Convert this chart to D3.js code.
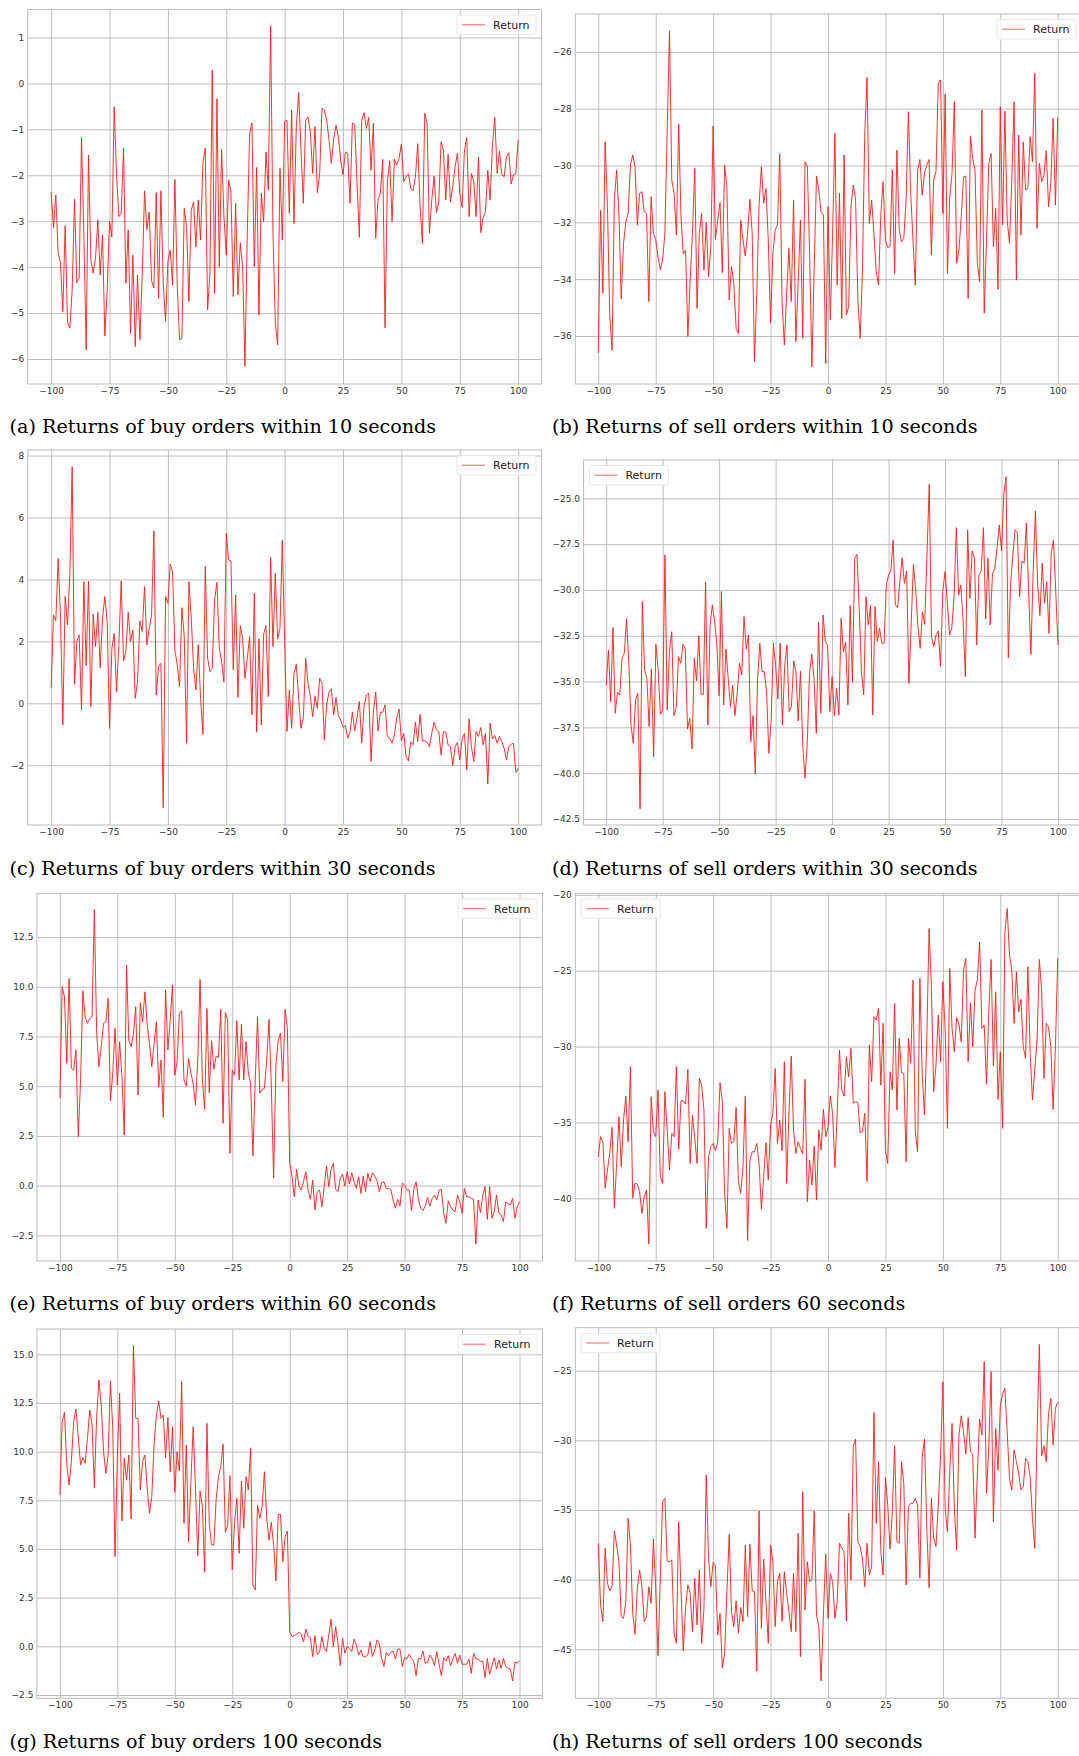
<!DOCTYPE html>
<html>
<head>
<meta charset="utf-8">
<script src="https://cdn.jsdelivr.net/npm/d3@7"></script>
<style>
html, body { margin: 0; padding: 0; background: #fff; }
svg { display: block; }
</style>
</head>
<body>
<svg id="fig" width="1079" height="1756"></svg>
<script>
// lag (seconds) on the x axis of every panel, and its ticks
var lags = d3.range(-100, 101);
var xTicks = [-100, -75, -50, -25, 0, 25, 50, 75, 100];

// returns, one value per lag from -100 to 100
var buy10 = [
-2.36,-3.14,-2.43,-3.70,-3.90,-4.97,-3.10,-5.20,-5.33,-4.50,
-2.52,-4.34,-4.24,-1.18,-3.26,-5.80,-1.56,-3.84,-4.13,-3.80,
-2.97,-4.17,-3.30,-5.50,-4.50,-3.00,-3.34,-0.51,-1.96,-2.90,
-2.83,-1.41,-4.35,-3.19,-5.44,-3.74,-5.73,-4.17,-5.58,-4.20,
-2.34,-3.19,-2.80,-4.30,-4.45,-2.38,-4.68,-2.34,-4.35,-5.18,
-3.88,-3.63,-4.39,-2.09,-4.39,-5.58,-5.55,-2.72,-3.12,-4.75,
-2.76,-2.58,-3.56,-2.54,-3.41,-1.72,-1.41,-4.93,-4.13,0.29,
-4.57,-0.33,-3.99,-1.44,-2.90,-3.74,-2.10,-2.36,-4.64,-2.61,
-4.60,-3.47,-3.99,-6.16,-3.26,-1.09,-0.86,-3.99,-1.83,-5.04,
-2.39,-3.01,-1.49,-2.32,1.25,-3.26,-5.22,-5.69,-1.85,-3.41,
-0.83,-0.80,-2.83,-0.58,-3.05,-0.94,-0.20,-1.45,-2.61,-0.80,
-0.73,-1.05,-1.96,-0.94,-2.38,-1.96,-0.54,-0.58,-0.80,-1.23,
-1.74,-1.20,-0.91,-1.16,-1.67,-1.99,-1.49,-1.52,-2.61,-0.86,
-0.89,-2.18,-3.35,-0.80,-0.64,-0.98,-0.74,-1.89,-0.87,-3.37,
-2.52,-2.39,-1.65,-5.32,-2.14,-1.68,-3.01,-1.65,-1.78,-1.63,
-1.32,-2.14,-2.03,-1.97,-2.28,-2.34,-2.03,-1.31,-2.68,-3.48,
-0.65,-0.87,-3.26,-2.54,-2.02,-2.81,-2.58,-1.27,-1.45,-2.54,
-1.54,-2.58,-2.25,-1.81,-1.52,-2.39,-2.70,-1.45,-1.18,-2.90,
-1.96,-2.14,-2.90,-1.60,-3.25,-2.93,-2.79,-1.89,-2.54,-1.34,
-0.74,-1.96,-1.47,-1.99,-2.03,-1.60,-1.51,-2.19,-1.99,-1.97,
-1.23];

var sell10 = [
-36.6,-31.57,-34.5,-29.17,-31.45,-35.3,-36.5,-31.2,-30.16,-31.7,
-34.7,-32.74,-31.98,-31.69,-29.99,-29.63,-30.04,-32.1,-30.98,-30.92,
-31.63,-31.69,-34.79,-31.1,-32.39,-32.62,-33.2,-33.66,-33.33,-32.39,
-28.75,-25.26,-30.51,-30.98,-32.45,-28.54,-31.8,-33.12,-32.98,-36.02,
-34.03,-32.39,-30.1,-35.03,-32.39,-31.69,-33.68,-32.01,-33.91,-32.86,
-28.61,-32.6,-31.92,-31.31,-33.77,-29.99,-30.75,-34.73,-33.56,-34.15,
-35.73,-35.91,-31.92,-32.62,-33.19,-32.39,-31.19,-32.39,-36.9,-34.5,
-31.39,-30.04,-31.33,-30.81,-32.62,-35.55,-33.09,-32.27,-32.1,-29.6,
-34.79,-36.32,-34.5,-32.92,-34.79,-31.22,-36.2,-34.15,-31.92,-36.08,
-29.87,-30.02,-33.09,-37.08,-33.56,-30.37,-30.87,-31.63,-31.74,-36.96,
-31.45,-35.44,-32.39,-28.87,-34.21,-30.98,-35.38,-29.63,-35.26,-34.97,
-31.45,-30.69,-31.16,-34.73,-36.08,-33.68,-28.87,-26.9,-32.04,-31.22,
-32.39,-33.74,-34.21,-31.69,-30.57,-32.65,-32.88,-32.86,-30.16,-33.8,
-29.46,-32.27,-32.68,-32.56,-31.22,-28.11,-30.98,-32.62,-34.21,-30.16,
-29.79,-31.04,-30.26,-29.99,-29.79,-33.15,-30.51,-30.22,-27.11,-26.99,
-31.69,-27.49,-33.8,-31.1,-30.28,-27.76,-33.44,-32.98,-31.8,-30.4,
-30.37,-34.68,-28.97,-29.75,-30.16,-33.44,-34.09,-28.05,-35.2,-32.62,
-29.93,-29.58,-32.86,-31.51,-34.36,-27.93,-32.1,-28.09,-31.92,-32.74,
-30.51,-27.76,-34.03,-28.93,-32.45,-29.17,-30.87,-30.81,-28.99,-29.87,
-26.76,-32.21,-29.93,-30.57,-30.34,-29.48,-31.45,-30.63,-28.34,-31.39,
-28.31];

var buy30 = [
0.51,2.85,2.66,4.68,2.85,-0.7,3.45,2.53,4.15,7.64,
0.62,1.99,2.21,-0.21,3.93,1.22,3.95,-0.11,2.88,1.83,
2.94,1.15,2.75,3.45,2.64,-0.81,1.77,2.26,0.38,1.89,
3.95,1.37,1.67,2.94,1.99,2.37,0.16,0.7,2.66,2.32,
3.77,1.89,2.42,2.85,5.57,0.27,1.19,1.29,-3.37,3.45,
3.23,4.5,4.25,1.72,1.24,0.54,3.09,2.16,-1.29,3.93,
2.75,1.13,0.43,1.89,0.16,-1.0,4.42,1.46,1.02,1.13,
3.34,3.91,1.78,1.35,0.68,5.49,4.63,4.6,1.08,3.5,
0.19,2.51,2.1,0.81,1.46,2.16,-0.37,3.55,-0.93,2.08,
-0.7,2.23,2.51,0.22,4.71,1.83,4.2,2.07,2.42,5.26,
1.99,-0.91,0.43,-0.81,0.97,1.26,0.16,-0.81,-0.48,1.46,
0.65,0.22,-0.43,0.22,-0.16,0.81,0.65,-1.18,-0.05,0.36,
0.47,-0.37,0.19,-0.4,-0.54,-0.78,-0.72,-1.13,-0.93,-0.29,
-0.89,-0.46,0.06,-1.29,-0.11,0.27,0.33,-1.88,-0.25,0.36,
-0.89,-0.29,-0.29,-0.05,-1.07,-1.13,-1.29,-1.02,-0.48,-0.18,
-1.21,-0.97,-1.72,-1.86,-1.24,-1.34,-0.61,-1.24,-0.35,-1.21,
-1.21,-1.26,-1.4,-0.97,-0.61,-0.86,-0.91,-1.67,-0.91,-0.93,
-1.34,-1.4,-2.01,-1.4,-1.26,-1.83,-1.15,-0.97,-2.15,-0.5,
-1.4,-1.88,-0.91,-1.07,-0.78,-1.34,-0.97,-2.61,-0.64,-1.15,
-1.04,-1.29,-1.07,-1.24,-1.45,-1.83,-1.4,-1.32,-1.29,-2.23,
-2.1];

var sell30 = [
-35.22,-33.28,-36.1,-32.06,-36.73,-35.58,-35.73,-33.73,-33.46,-31.59,
-33.91,-37.41,-38.37,-36.01,-35.64,-41.95,-30.64,-34.37,-34.82,-37.46,
-34.31,-39.1,-32.97,-34.37,-36.79,-36.55,-28.09,-36.55,-33.37,-32.28,
-36.86,-36.42,-33.64,-34.0,-32.97,-33.19,-37.59,-37.01,-38.68,-33.73,
-34.97,-32.5,-35.7,-35.7,-29.58,-37.37,-31.91,-30.82,-31.73,-33.0,
-35.77,-30.09,-36.28,-33.22,-34.82,-36.37,-35.19,-36.86,-35.64,-34.0,
-34.64,-31.46,-33.22,-32.46,-38.28,-36.86,-40.06,-34.91,-32.91,-34.46,
-34.46,-35.55,-38.92,-37.19,-32.91,-34.13,-35.95,-32.91,-37.37,-34.19,
-33.0,-36.64,-36.37,-33.88,-34.46,-37.15,-34.42,-38.46,-40.28,-38.37,
-34.55,-33.51,-34.82,-37.83,-31.77,-36.73,-31.37,-32.82,-33.0,-36.64,
-34.73,-36.86,-35.37,-36.82,-31.55,-33.37,-32.86,-36.28,-30.86,-35.04,
-28.27,-28.06,-30.97,-34.46,-35.73,-30.37,-31.91,-30.86,-36.82,-30.91,
-32.82,-32.09,-32.91,-32.91,-29.73,-29.18,-28.97,-27.27,-30.82,-30.97,
-29.55,-28.24,-29.64,-28.97,-35.1,-31.91,-28.6,-30.0,-32.0,-33.19,
-31.19,-31.88,-28.09,-24.24,-32.55,-33.1,-32.46,-32.24,-34.19,-30.09,
-29.0,-30.64,-32.46,-32.06,-30.37,-26.6,-30.28,-29.73,-31.73,-34.73,
-26.73,-30.46,-27.87,-28.27,-33.0,-29.18,-28.97,-26.6,-31.59,-28.27,
-31.91,-29.09,-28.86,-27.73,-26.46,-27.87,-24.78,-23.82,-33.7,-29.73,
-28.09,-26.73,-26.86,-30.37,-28.42,-28.55,-26.36,-30.09,-33.51,-29.0,
-25.69,-29.73,-31.4,-28.55,-30.73,-29.55,-32.37,-28.0,-27.27,-30.09,
-33.0];

var buy60 = [
4.39,10.0,9.5,6.15,10.42,5.9,5.81,6.82,2.46,5.31,
9.8,8.49,8.16,8.41,8.49,13.89,7.66,5.98,6.99,8.16,
8.24,9.42,4.27,5.65,7.91,5.06,7.24,5.48,2.55,11.09,
7.32,6.99,7.66,9.0,4.56,9.2,8.24,9.75,8.08,7.15,
5.98,7.15,8.24,4.97,6.32,3.43,9.84,6.82,8.33,10.09,
5.56,6.23,8.66,8.8,5.31,5.01,6.4,5.65,5.14,4.05,
6.32,10.37,5.31,3.84,8.91,4.67,7.29,5.85,6.52,6.45,
8.86,3.13,8.7,8.33,1.62,5.81,5.56,8.29,5.31,8.13,
5.31,7.24,5.65,5.14,1.49,5.31,8.49,4.64,4.84,4.89,
6.32,8.36,4.97,0.37,6.06,7.29,7.66,5.23,8.86,7.91,
1.12,0.48,-0.56,0.82,-0.02,-0.22,0.2,0.7,-0.22,-0.69,
0.28,-1.23,-0.3,-0.22,-1.06,-0.05,0.99,-0.05,0.82,1.12,
-0.19,-0.3,0.37,0.58,-0.02,0.7,0.08,0.65,0.2,-0.14,
0.45,-0.39,0.48,-0.3,0.63,0.2,0.65,0.48,0.25,-0.3,
0.15,0.2,-0.14,-0.14,-0.19,-0.72,-1.14,-0.69,-1.02,0.12,
0.03,-0.22,-0.22,-1.26,-0.19,0.2,-0.69,-1.14,-1.26,-1.02,
-0.59,-1.02,-0.64,-0.47,-0.72,-0.22,-0.19,-1.39,-1.89,-0.76,
-1.06,-1.23,-1.31,-0.47,-0.81,-1.39,-0.14,-0.56,-0.56,-0.64,
-0.69,-2.94,-0.72,-1.36,-0.52,-0.05,-1.69,-0.05,-1.64,-1.31,
-0.47,-1.39,-1.48,-1.81,-0.81,-0.92,-0.97,-0.64,-1.64,-1.06,
-0.81];

var sell60 = [
-37.26,-35.94,-36.27,-39.34,-38.13,-37.04,-35.32,-40.66,-37.7,-34.62,
-37.91,-34.84,-33.26,-36.27,-31.33,-40.0,-39.01,-39.06,-39.56,-40.99,
-39.89,-39.45,-43.01,-33.3,-35.61,-35.94,-32.86,-38.57,-39.01,-32.97,
-35.5,-38.13,-35.72,-35.94,-31.33,-36.77,-33.57,-33.57,-33.79,-31.5,
-37.7,-34.53,-36.05,-37.7,-32.1,-32.54,-34.18,-41.98,-37.26,-36.6,
-36.38,-36.86,-36.27,-32.38,-33.63,-39.67,-41.98,-35.39,-36.38,-36.27,
-34.01,-38.9,-39.67,-37.91,-33.26,-42.79,-37.48,-36.93,-36.93,-36.38,
-37.7,-40.72,-38.57,-36.33,-38.79,-35.17,-34.4,-31.44,-36.38,-34.84,
-36.86,-31.0,-39.01,-34.4,-30.63,-35.5,-37.04,-36.27,-36.71,-37.08,
-32.16,-40.22,-37.48,-39.12,-36.55,-40.11,-35.5,-36.82,-34.14,-35.94,
-35.32,-33.26,-34.4,-37.96,-34.4,-30.23,-32.86,-33.26,-30.67,-31.99,
-30.12,-33.74,-33.63,-33.7,-35.67,-35.61,-34.4,-38.9,-29.9,-32.32,
-28.04,-28.25,-27.49,-32.54,-28.47,-36.82,-37.7,-31.66,-32.86,-27.16,
-34.18,-29.46,-31.72,-31.77,-37.59,-29.46,-31.11,-25.62,-35.61,-36.93,
-25.51,-31.77,-34.51,-29.57,-22.22,-26.06,-32.97,-31.22,-27.93,-31.0,
-25.73,-28.91,-35.39,-24.85,-28.8,-30.34,-28.08,-28.52,-29.68,-24.96,
-24.19,-31.0,-27.11,-30.01,-26.28,-25.62,-23.1,-28.8,-28.58,-32.47,
-27.71,-24.26,-31.28,-26.39,-33.48,-30.34,-35.39,-22.44,-20.9,-23.97,
-24.96,-28.47,-25.07,-27.71,-26.89,-30.01,-30.78,-24.74,-30.45,-33.52,
-31.55,-29.57,-24.26,-26.28,-32.1,-28.47,-28.69,-30.01,-34.14,-30.01,
-24.19];

var buy100 = [
7.77,11.54,12.02,9.35,8.29,9.49,11.54,12.19,10.77,9.32,
9.69,9.4,10.68,12.14,11.37,8.15,11.8,13.68,12.4,10.0,
8.89,9.83,13.63,11.2,4.61,9.66,13.0,6.44,9.66,8.54,
9.83,6.54,15.45,11.71,11.71,8.03,9.49,9.83,8.12,6.83,
7.69,10.38,11.88,12.6,11.71,11.88,9.69,11.75,8.97,11.28,
7.91,10.0,9.01,13.6,6.32,10.34,5.38,8.46,11.28,8.12,
4.66,7.98,7.17,3.84,11.46,6.32,5.21,5.21,7.57,8.72,
9.23,10.38,5.86,6.2,8.77,3.92,6.32,7.6,4.78,8.49,
6.06,8.72,8.03,10.17,3.15,2.89,7.26,6.58,7.17,8.97,
6.58,5.46,6.37,5.21,3.36,6.78,6.78,4.35,5.63,5.92,
0.75,0.5,0.55,0.62,0.72,0.62,0.24,0.89,0.5,0.45,
-0.53,0.55,-0.41,-0.31,0.5,-0.1,-0.27,0.58,1.4,-0.03,
1.01,0.15,-0.99,0.41,-0.36,-0.02,-0.1,-0.27,0.38,0.07,
-0.45,-0.19,-0.53,-0.53,-0.45,0.24,-0.53,-0.19,0.33,0.15,
-0.62,-1.04,-0.31,-0.48,-0.31,-0.24,-0.65,-0.14,-0.14,-1.04,
-0.58,-0.65,-0.41,-0.62,-0.79,-1.51,-0.62,-0.65,-0.24,-0.87,
-0.82,-0.45,-0.62,-0.99,-0.27,-0.92,-1.51,-0.58,-0.75,-0.48,
-0.99,-0.65,-0.36,-0.87,-0.45,-0.92,-0.92,-0.92,-0.65,-1.39,
-0.36,-0.65,-0.65,-0.79,-0.75,-1.61,-0.62,-1.44,-0.99,-0.58,
-1.16,-0.7,-1.13,-0.62,-1.04,-1.13,-1.16,-1.78,-0.79,-0.87,
-0.75];

var sell100 = [
-37.39,-41.82,-43.01,-37.75,-40.26,-40.81,-40.5,-36.51,-37.51,-38.71,
-42.66,-42.78,-41.58,-35.6,-37.51,-42.42,-43.92,-40.62,-39.31,-40.5,
-43.01,-42.66,-40.5,-41.7,-37.08,-40.62,-45.45,-39.9,-34.4,-34.16,
-38.66,-38.71,-38.59,-43.85,-44.57,-35.84,-40.62,-45.12,-42.06,-40.38,
-40.98,-43.73,-39.9,-43.25,-39.31,-44.57,-42.06,-32.49,-38.47,-40.5,
-38.76,-39.0,-43.97,-42.42,-46.36,-45.29,-40.86,-36.75,-42.3,-43.37,
-41.53,-43.85,-42.01,-43.01,-37.51,-42.66,-37.46,-40.81,-40.86,-46.56,
-35.07,-43.49,-38.52,-41.58,-44.57,-37.51,-38.71,-43.37,-40.14,-39.55,
-43.01,-39.43,-40.98,-42.3,-43.73,-39.55,-43.73,-36.67,-45.53,-33.68,
-42.18,-38.71,-40.14,-40.02,-35.07,-42.54,-43.37,-47.27,-42.54,-38.18,
-42.78,-39.55,-40.14,-42.78,-41.58,-37.39,-37.75,-37.99,-42.97,-35.24,
-40.02,-30.45,-29.9,-37.27,-37.63,-38.52,-40.5,-37.39,-39.67,-39.07,
-27.99,-35.96,-31.53,-37.99,-39.67,-32.68,-34.64,-37.8,-35.12,-30.38,
-37.27,-37.39,-31.53,-33.09,-40.38,-34.76,-34.52,-34.52,-34.16,-34.64,
-39.9,-31.17,-29.9,-36.32,-40.57,-34.16,-37.03,-37.63,-34.64,-31.05,
-25.79,-34.88,-36.56,-32.25,-28.78,-34.88,-37.87,-29.62,-28.23,-29.38,
-31.0,-28.37,-30.81,-31.0,-37.03,-32.49,-28.47,-29.62,-24.35,-33.8,
-30.45,-25.07,-35.84,-29.14,-32.13,-27.58,-26.63,-26.27,-29.38,-32.73,
-33.56,-30.69,-31.53,-32.37,-33.56,-33.33,-31.29,-31.53,-32.61,-35.6,
-37.75,-29.62,-23.11,-31.1,-30.38,-31.53,-28.06,-26.99,-30.33,-27.7,
-27.27];

// y tick values per panel
var yTicksBuy10 = [-6, -5, -4, -3, -2, -1, 0, 1];
var yTicksSell10 = [-36, -34, -32, -30, -28, -26];
var yTicksBuy30 = [-2, 0, 2, 4, 6, 8];
var yTicksSell30 = [-42.5, -40, -37.5, -35, -32.5, -30, -27.5, -25];
var yTicksBuy60 = [-2.5, 0, 2.5, 5, 7.5, 10, 12.5];
var yTicksSell60 = [-40, -35, -30, -25, -20];
var yTicksBuy100 = [-2.5, 0, 2.5, 5, 7.5, 10, 12.5, 15];
var yTicksSell100 = [-45, -40, -35, -30, -25];

var captions = [
  "(a) Returns of buy orders within 10 seconds",
  "(b) Returns of sell orders within 10 seconds",
  "(c) Returns of buy orders within 30 seconds",
  "(d) Returns of sell orders within 30 seconds",
  "(e) Returns of buy orders within 60 seconds",
  "(f) Returns of sell orders 60 seconds",
  "(g) Returns of buy orders 100 seconds",
  "(h) Returns of sell orders 100 seconds"
];
var seriesName = "Return";

// layout: plot box [left, right, top, bottom], y limits, legend corner
var fInt = d3.format("d"), fDec = d3.format(".1f");
var panels = [
  {values: buy10,   yTicks: yTicksBuy10,   fmt: fInt, box: [27.8, 541.5, 9.5, 384],     yLim: [-6.545, 1.61],   legend: "right", capX: 9.5, capY: 433},
  {values: sell10,  yTicks: yTicksSell10,  fmt: fInt, box: [575.3, 1080.7, 14, 384],    yLim: [-37.69, -24.67], legend: "right", capX: 552, capY: 433},
  {values: buy30,   yTicks: yTicksBuy30,   fmt: fInt, box: [27.8, 541.5, 450, 825],     yLim: [-3.93, 8.18],    legend: "right", capX: 9.5, capY: 875},
  {values: sell30,  yTicks: yTicksSell30,  fmt: fDec, box: [583.6, 1080.6, 460, 825],   yLim: [-42.83, -22.91], legend: "left",  capX: 552, capY: 875},
  {values: buy60,   yTicks: yTicksBuy60,   fmt: fDec, box: [36.9, 542.5, 893.3, 1261],  yLim: [-3.79, 14.7],    legend: "right", capX: 9.5, capY: 1310},
  {values: sell60,  yTicks: yTicksSell60,  fmt: fInt, box: [575.3, 1080.7, 893.3, 1261],yLim: [-44.13, -19.9],  legend: "left",  capX: 552, capY: 1310},
  {values: buy100,  yTicks: yTicksBuy100,  fmt: fDec, box: [36.9, 542.5, 1329, 1698.3], yLim: [-2.67, 16.3],    legend: "right", capX: 9.5, capY: 1748},
  {values: sell100, yTicks: yTicksSell100, fmt: fInt, box: [575.3, 1080.7, 1327.7, 1698.3], yLim: [-48.52, -21.91], legend: "left", capX: 552, capY: 1748}
];

var svg = d3.select("#fig");
svg.append("rect").attr("width", 1079).attr("height", 1756).attr("fill", "#fff");
var defs = svg.append("defs");

var gridColor = "#bdbdbd", frameColor = "#bbbbbb", tickColor = "#333";

panels.forEach(function(p, k) {
  var L = p.box[0], R = p.box[1], T = p.box[2], B = p.box[3];
  var xs = d3.scaleLinear().domain([-110, 110]).range([L, R]);
  var ys = d3.scaleLinear().domain(p.yLim).range([B, T]);
  var g = svg.append("g");

  defs.append("clipPath").attr("id", "clip" + k)
    .append("rect").attr("x", L).attr("y", T).attr("width", R - L).attr("height", B - T);

  // grid lines
  g.append("g").attr("transform", "translate(0," + B + ")")
    .call(d3.axisBottom(xs).tickValues(xTicks).tickSize(-(B - T)).tickFormat(""))
    .call(function(a) { a.select(".domain").remove(); a.selectAll("line").attr("stroke", gridColor).attr("stroke-width", 1); });
  g.append("g").attr("transform", "translate(" + L + ",0)")
    .call(d3.axisLeft(ys).tickValues(p.yTicks).tickSize(-(R - L)).tickFormat(""))
    .call(function(a) { a.select(".domain").remove(); a.selectAll("line").attr("stroke", gridColor).attr("stroke-width", 1); });

  // frame
  g.append("rect").attr("x", L).attr("y", T).attr("width", R - L).attr("height", B - T)
    .attr("fill", "none").attr("stroke", frameColor).attr("stroke-width", 1);

  // tick labels
  g.append("g").attr("transform", "translate(0," + B + ")")
    .call(d3.axisBottom(xs).tickValues(xTicks).tickSize(0).tickPadding(3.6).tickFormat(fInt))
    .call(function(a) {
      a.select(".domain").remove();
      a.selectAll("text").attr("font-family", "DejaVu Sans").attr("font-size", 9).attr("fill", tickColor);
    });
  g.append("g").attr("transform", "translate(" + L + ",0)")
    .call(d3.axisLeft(ys).tickValues(p.yTicks).tickSize(0).tickPadding(3.5).tickFormat(p.fmt))
    .call(function(a) {
      a.select(".domain").remove();
      a.selectAll("text").attr("font-family", "DejaVu Sans").attr("font-size", 9).attr("fill", tickColor);
    });

  // the return line
  g.append("path")
    .datum(p.values)
    .attr("clip-path", "url(#clip" + k + ")")
    .attr("fill", "none")
    .attr("stroke", "#ff1a1a")
    .attr("stroke-width", 0.9)
    .attr("stroke-linejoin", "round")
    .attr("d", d3.line()
      .x(function(d, i) { return xs(lags[i]); })
      .y(function(d) { return ys(d); }));

  // legend
  var lw = 79, lh = 19.5;
  var lx = p.legend === "right" ? Math.min(R, 1079) - (R > 1079 ? 3 : 5.5) - lw : L + 5.8;
  var ly = T + 5.5;
  var lg = g.append("g").attr("transform", "translate(" + lx + "," + ly + ")");
  lg.append("rect").attr("width", lw).attr("height", lh).attr("rx", 2.5)
    .attr("fill", "#fff").attr("fill-opacity", 0.85).attr("stroke", "#e6e6e6").attr("stroke-width", 1);
  lg.append("line").attr("x1", 5).attr("x2", 28).attr("y1", lh / 2).attr("y2", lh / 2)
    .attr("stroke", "#ff8585").attr("stroke-width", 1.3);
  lg.append("text").attr("x", 36).attr("y", lh / 2 + 4)
    .attr("font-family", "DejaVu Sans").attr("font-size", 11).attr("fill", "#1a1a1a")
    .text(seriesName);

  // caption
  svg.append("text").attr("class", "caption")
    .attr("x", p.capX).attr("y", p.capY)
    .attr("font-family", "DejaVu Serif").attr("font-size", 20).attr("fill", "#000")
    .text(captions[k]);
});

// size the captions so caption (a) spans the same width as in the figure
var capNodes = svg.selectAll(".caption");
var w0 = capNodes.nodes()[0].getComputedTextLength();
if (w0 > 0) capNodes.attr("font-size", 20 * 427 / w0);
</script>
</body>
</html>
